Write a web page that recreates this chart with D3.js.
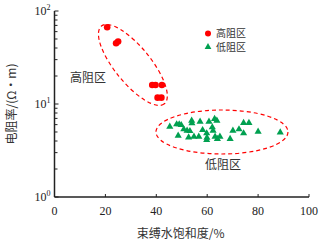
<!DOCTYPE html>
<html>
<head>
<meta charset="utf-8">
<script src="https://cdn.jsdelivr.net/npm/d3@7"></script>
<style>
  body { margin: 0; background: #fff; }
  svg { display: block; }
  .num { font-family: "Liberation Serif", "DejaVu Serif", serif; font-size: 12px; fill: #222; }
  .cjk { font-family: "Noto Sans CJK SC", sans-serif; fill: #333; }
</style>
</head>
<body>
<div id="chart"></div>
<script>
// high resistivity group (bound water saturation %, resistivity ohm-m)
const highX = [20.7, 24.2, 25.0, 38.4, 39.7, 42.2, 40.5, 42.0];
const highY = [67, 45, 47, 16, 16, 16, 11.7, 11.7];

// low resistivity group
const lowX = [45.3, 48.0, 49.0, 49.8, 50.8, 48.6, 52.1, 53.2, 52.7, 53.9, 54.0, 54.8,
              56.7, 57.2, 58.2, 59.8, 59.9, 59.8, 60.7, 62.0, 62.3, 62.9, 63.8, 63.1,
              64.0, 65.0, 69.0, 70.1, 72.5, 74.3, 74.3, 76.4, 80.0, 88.7];
const lowY = [5.70, 6.05, 6.05, 5.94, 5.35, 4.56, 5.16, 5.12, 4.38, 6.61, 6.20, 4.45,
              4.45, 6.45, 5.25, 4.84, 4.34, 4.10, 6.45, 5.62, 5.16, 6.90, 6.61, 4.45,
              4.21, 4.45, 4.21, 5.16, 5.35, 4.84, 6.25, 6.25, 5.04, 4.96];

const xTicks = [0, 20, 40, 60, 80, 100];
const yMajor = [1, 10, 100];
const yExp = ["0", "1", "2"];
const legendNames = ["高阻区", "低阻区"];

const W = 328, H = 246;
const m = { left: 54.5, right: 19, top: 11, bottom: 49 };

const svg = d3.select("#chart").append("svg").attr("width", W).attr("height", H);

const x = d3.scaleLinear().domain([0, 100]).range([m.left, W - m.right]);
const y = d3.scaleLog().domain([1, 100]).range([H - m.bottom, m.top]);

const red = "#ff0000", green = "#00a050";

// dashed ellipses around groups
const ell = svg.append("g").attr("fill", "none").attr("stroke", red)
    .attr("stroke-width", 1.2).attr("stroke-dasharray", "4,3");
ell.append("ellipse")
    .attr("transform", `translate(${x(30.8)},${y(26.3)}) rotate(51)`)
    .attr("rx", 50).attr("ry", 18);
ell.append("ellipse")
    .attr("transform", `translate(${x(65.8)},${y(5.0)})`)
    .attr("rx", 66).attr("ry", 22);

// axes
const yMinor = [];
[1, 10].forEach(d => { for (let k = 2; k <= 9; k++) yMinor.push(d * k); });

const axes = svg.append("g").attr("stroke", "#222").attr("stroke-width", 1.5);
axes.append("line").attr("x1", x(0)).attr("x2", x(0)).attr("y1", y(100)).attr("y2", y(1));
axes.append("line").attr("x1", x(0)).attr("x2", x(100)).attr("y1", y(1)).attr("y2", y(1));
axes.selectAll(".ym").data(yMajor.concat(yMinor)).enter().append("line")
    .attr("stroke-width", 1)
    .attr("x1", x(0)).attr("x2", d => x(0) + (yMajor.includes(d) ? 4 : 3))
    .attr("y1", d => y(d)).attr("y2", d => y(d));
axes.selectAll(".xt").data(xTicks.slice(1)).enter().append("line")
    .attr("stroke-width", 1)
    .attr("x1", d => x(d)).attr("x2", d => x(d))
    .attr("y1", y(1)).attr("y2", y(1) - 3);

svg.selectAll(".xl").data(xTicks).enter().append("text")
    .attr("class", "num").attr("text-anchor", "middle")
    .attr("x", d => x(d)).attr("y", y(1) + 18).text(d => d);

const yl = svg.selectAll(".yl").data(yMajor).enter().append("text")
    .attr("class", "num").attr("text-anchor", "end")
    .attr("x", x(0) - 4).attr("y", d => y(d) + 4);
yl.append("tspan").text("10");
yl.append("tspan").attr("dy", -5).style("font-size", "8px").text((d, i) => yExp[i]);

// axis titles
svg.append("text").attr("class", "cjk").style("font-size", "12px")
    .attr("text-anchor", "middle").attr("x", x(50) - 1).attr("y", 238)
    .text("束缚水饱和度/%");
svg.append("text").attr("class", "cjk").style("font-size", "12px")
    .attr("text-anchor", "middle")
    .attr("transform", `translate(16,${y(10)}) rotate(-90)`)
    .text("电阻率/(Ω·m)");

// points
svg.selectAll(".hp").data(highX).enter().append("circle")
    .attr("cx", d => x(d)).attr("cy", (d, i) => y(highY[i]))
    .attr("r", 3.3).attr("fill", red);

const tri = d3.symbol().type(d3.symbolTriangle).size(22);
svg.selectAll(".lp").data(lowX).enter().append("path")
    .attr("d", tri)
    .attr("transform", (d, i) => `translate(${x(d)},${y(lowY[i])})`)
    .attr("fill", green);

// region labels
svg.append("text").attr("class", "cjk").style("font-size", "12px")
    .attr("x", 70).attr("y", 82).text("高阻区");
svg.append("text").attr("class", "cjk").style("font-size", "12px")
    .attr("x", 205).attr("y", 169).text("低阻区");

// legend
const lg = svg.append("g").attr("transform", "translate(208,33.5)");
lg.append("circle").attr("r", 3).attr("fill", red);
lg.append("path").attr("d", d3.symbol().type(d3.symbolTriangle).size(20)())
    .attr("transform", "translate(0,13.5)").attr("fill", green);
lg.selectAll("text").data(legendNames).enter().append("text")
    .attr("class", "cjk").style("font-size", "10px")
    .attr("x", 8).attr("y", (d, i) => i * 13.5 + 3.5).text(d => d);
</script>
</body>
</html>
